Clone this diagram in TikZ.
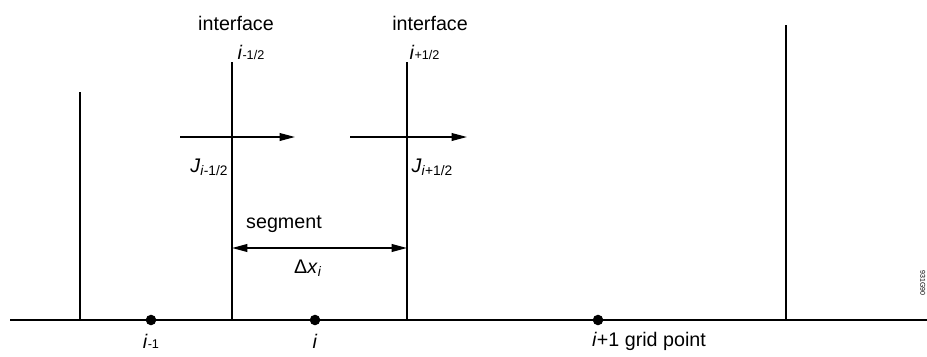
\documentclass[tikz,border=0pt]{standalone}
\usepackage{fontspec}
\setmainfont{Liberation Sans}
\usepackage{tikz}
\usetikzlibrary{positioning, arrows.meta}

\begin{document}
\begin{tikzpicture}[x=0.025cm, y=-0.025cm, font=\fontsize{14}{16}\selectfont]
    \tikzstyle{wall} = [line width=1.1pt]
    \tikzstyle{axis} = [line width=1.6pt]
    \tikzstyle{dot} = [circle, fill=black, inner sep=0pt, minimum size=7.5pt]
    \tikzstyle{flux} = [line width=1.1pt, -{Triangle[length=11pt, width=5.5pt]}]
    \tikzstyle{span} = [line width=1.3pt, {Triangle[length=11pt, width=5.5pt]}-{Triangle[length=11pt, width=5.5pt]}]
    \tikzstyle{lbl} = [inner sep=1pt]

    \useasboundingbox (0,0) rectangle (927,356);

    % grid line and points
    \coordinate (left) at (10,320);
    \coordinate (right) at (927,320);
    \draw [axis] (left) -- (right);
    \node [dot] (pm) at (151,320) {};
    \node [dot] (pi) at (315,320) {};
    \node [dot] (pp) at (598,320) {};
    \node [lbl] at (151,341) {\textit{i}{\small -1}};
    \node [lbl] at (315,341) {\textit{i}};
    \node [lbl] at (649,341) {\textit{i}+1 grid point};

    % segment boundaries
    \coordinate (wa) at (80,92);
    \coordinate (wb) at (232,62);
    \coordinate (wc) at (407,62);
    \coordinate (wd) at (786,25);
    \foreach \w in {wa, wb, wc, wd}
        \draw [wall] (\w) -- (\w |- left);

    \node [lbl] (ifa) at (236,23) {interface};
    \node [lbl] (ifb) at (430,23) {interface};
    \node [lbl, anchor=west] at (236,52) {\textit{i}{\small -1/2}};
    \node [lbl, anchor=west] at (408,52) {\textit{i}{\small +1/2}};

    % fluxes
    \coordinate (fa) at (180,137);
    \coordinate (fb) at (295,137);
    \coordinate (fc) at (350,137);
    \coordinate (fd) at (467,137);
    \draw [flux] (fa) -- (fb);
    \draw [flux] (fc) -- (fd);
    \node [lbl, anchor=east] at (230,167) {\textit{J}\textsubscript{\textit{i}-1/2}};
    \node [lbl, anchor=west] at (410,167) {\textit{J}\textsubscript{\textit{i}+1/2}};

    % segment width
    \coordinate (sa) at (232,248);
    \coordinate (sb) at (407,248);
    \draw [span] (sa) -- (sb);
    \node [lbl] at (284,224) {segment};
    \node [lbl] at (308,268) {Δ\textit{x}\textsubscript{\textit{i}}};

    \node [lbl, rotate=-90, font=\fontsize{5}{6}\selectfont, anchor=north] at (927,283) {931G90};
\end{tikzpicture}
\end{document}
